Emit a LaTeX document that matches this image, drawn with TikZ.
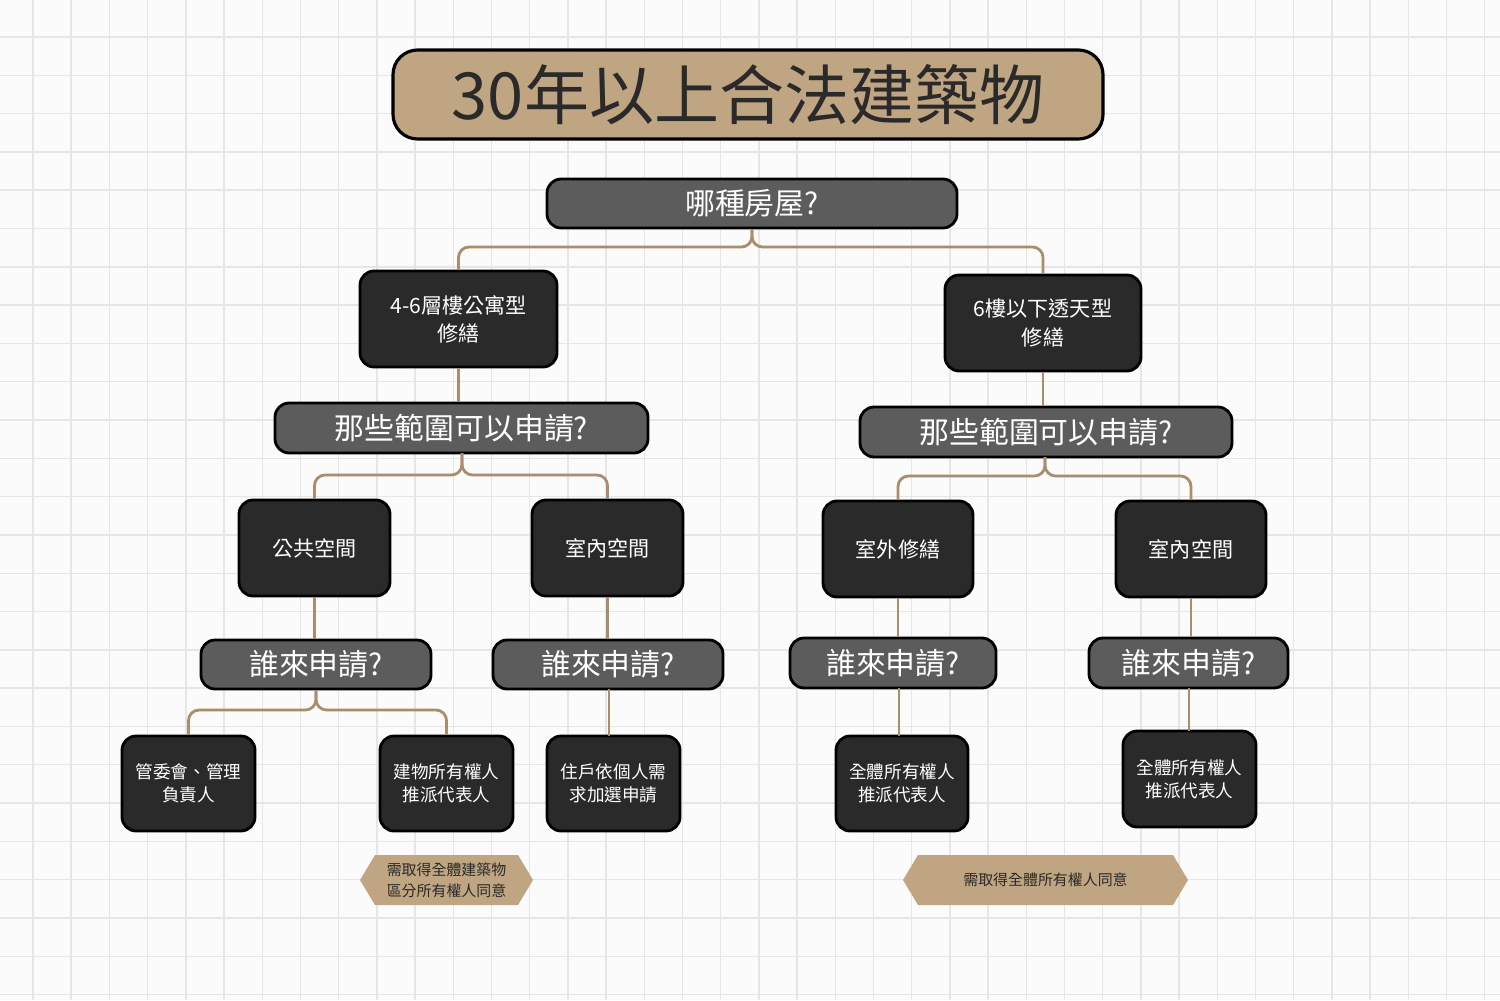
\documentclass[tikz,border=0pt]{standalone}
\usepackage{fontspec}
\setmainfont{Noto Sans CJK TC}
\usetikzlibrary{shapes.geometric}
\definecolor{tan}{HTML}{BFA582}
\definecolor{lnk}{HTML}{A88E6C}
\definecolor{midg}{HTML}{5C5C5C}
\definecolor{dk}{HTML}{2A2A2A}
\definecolor{gridc}{HTML}{E6E6E6}
\begin{document}
\begin{tikzpicture}[x=0.02cm,y=-0.02cm,
  bx/.style={draw=black,line width=1.6pt,rounded corners=8pt,text=white,align=center,inner sep=0pt},
  q/.style={bx,fill=midg,font=\fontsize{17}{20}\selectfont},
  d/.style={bx,fill=dk,font=\fontsize{12}{16}\selectfont},
  s/.style={bx,fill=dk,font=\fontsize{10}{13}\selectfont},
  ln/.style={draw=lnk,line width=1.6pt,rounded corners=6pt},
  note/.style={fill=tan,text=dk,align=center,font=\fontsize{8.5}{12}\selectfont}]
\useasboundingbox (0,0) rectangle (1500,1000);
\fill[white!97!gray] (0,0) rectangle (1500,1000);
\foreach \i in {0,...,39} {\draw[gridc,line width=0.8pt] (33+38.2*\i,0) -- (33+38.2*\i,1000);}
\foreach \i in {0,...,26} {\draw[gridc,line width=0.8pt] (0,37+38.3*\i) -- (1500,37+38.3*\i);}
% title
\node[draw=black,line width=1.8pt,fill=tan,rounded corners=14pt,minimum width=710*0.02cm,minimum height=89*0.02cm,text=dk,font=\fontsize{37}{40}\selectfont] (t) at (748,94.5) {30年以上合法建築物};
\node[q,minimum width=410*0.02cm,minimum height=49*0.02cm] (h) at (752,203.5) {哪種房屋?};
\node[d,minimum width=197*0.02cm,minimum height=96*0.02cm] (a) at (458.5,319) {4-6層樓公寓型\\修繕};
\node[d,minimum width=196*0.02cm,minimum height=96*0.02cm] (b) at (1043,323) {6樓以下透天型\\修繕};
\node[q,minimum width=373*0.02cm,minimum height=50*0.02cm] (ra) at (461.5,428) {那些範圍可以申請?};
\node[q,minimum width=372*0.02cm,minimum height=50*0.02cm] (rb) at (1046,432) {那些範圍可以申請?};
\node[d,minimum width=151*0.02cm,minimum height=96*0.02cm] (c1) at (314.5,548) {公共空間};
\node[d,minimum width=151*0.02cm,minimum height=96*0.02cm] (c2) at (607.5,548) {室內空間};
\node[d,minimum width=150*0.02cm,minimum height=96*0.02cm] (c3) at (898,549) {室外修繕};
\node[d,minimum width=150*0.02cm,minimum height=96*0.02cm] (c4) at (1191,549) {室內空間};
\node[q,minimum width=230*0.02cm,minimum height=49*0.02cm] (w1) at (316,664.5) {誰來申請?};
\node[q,minimum width=230*0.02cm,minimum height=49*0.02cm] (w2) at (608,664.5) {誰來申請?};
\node[q,minimum width=206*0.02cm,minimum height=50*0.02cm] (w3) at (893,663) {誰來申請?};
\node[q,minimum width=199*0.02cm,minimum height=50*0.02cm] (w4) at (1188.5,663) {誰來申請?};
\node[s,minimum width=133*0.02cm,minimum height=95*0.02cm] (e1) at (188.5,783.5) {管委會、管理\\負責人};
\node[s,minimum width=133*0.02cm,minimum height=95*0.02cm] (e2) at (446.5,783.5) {建物所有權人\\推派代表人};
\node[s,minimum width=133*0.02cm,minimum height=95*0.02cm] (e3) at (613.5,783.5) {住戶依個人需\\求加選申請};
\node[s,minimum width=132*0.02cm,minimum height=95*0.02cm] (e4) at (902,783.5) {全體所有權人\\推派代表人};
\node[s,minimum width=133*0.02cm,minimum height=96*0.02cm] (e5) at (1189.5,779) {全體所有權人\\推派代表人};
% notes
\coordinate (n1) at (446.5,880);
\coordinate (n2) at (1045.5,880);
\fill[tan] (360,880) -- (375,855) -- (518,855) -- (533,880) -- (518,905) -- (375,905) -- cycle;
\node[note] (nt1) at (n1) {需取得全體建築物\\區分所有權人同意};
\fill[tan] (903,880) -- (918,855) -- (1173,855) -- (1188,880) -- (1173,905) -- (918,905) -- cycle;
\node[note] (nt2) at (n2) {需取得全體所有權人同意};
% connectors
\begin{scope}[on background layer/.style={}]
\end{scope}
\draw[ln] (a.north) |- (752,247) -- (h.south);
\draw[ln] (b.north) |- (752,247) -- (h.south);
\draw[ln] (a.south) -- (a.south|-ra.north);
\draw[ln] (b.south) -- (b.south|-rb.north);
\draw[ln] (c1.north) |- (462,475) -- (462,453);
\draw[ln] (c2.north) |- (462,475) -- (462,453);
\draw[ln] (c3.north) |- (1045,476) -- (1045,457);
\draw[ln] (c4.north) |- (1045,476) -- (1045,457);
\draw[ln] (c1.south) -- (c1.south|-w1.north);
\draw[ln] (c2.south) -- (c2.south|-w2.north);
\draw[ln] (c3.south) -- (c3.south|-w3.north);
\draw[ln] (c4.south) -- (c4.south|-w4.north);
\draw[ln] (e1.north) |- (316,710) -- (w1.south);
\draw[ln] (e2.north) |- (316,710) -- (w1.south);
\draw[ln] (609,689) -- (609,736);
\draw[ln] (899,688) -- (899,736);
\draw[ln] (1189,688) -- (1189,731);
\end{tikzpicture}
\end{document}
